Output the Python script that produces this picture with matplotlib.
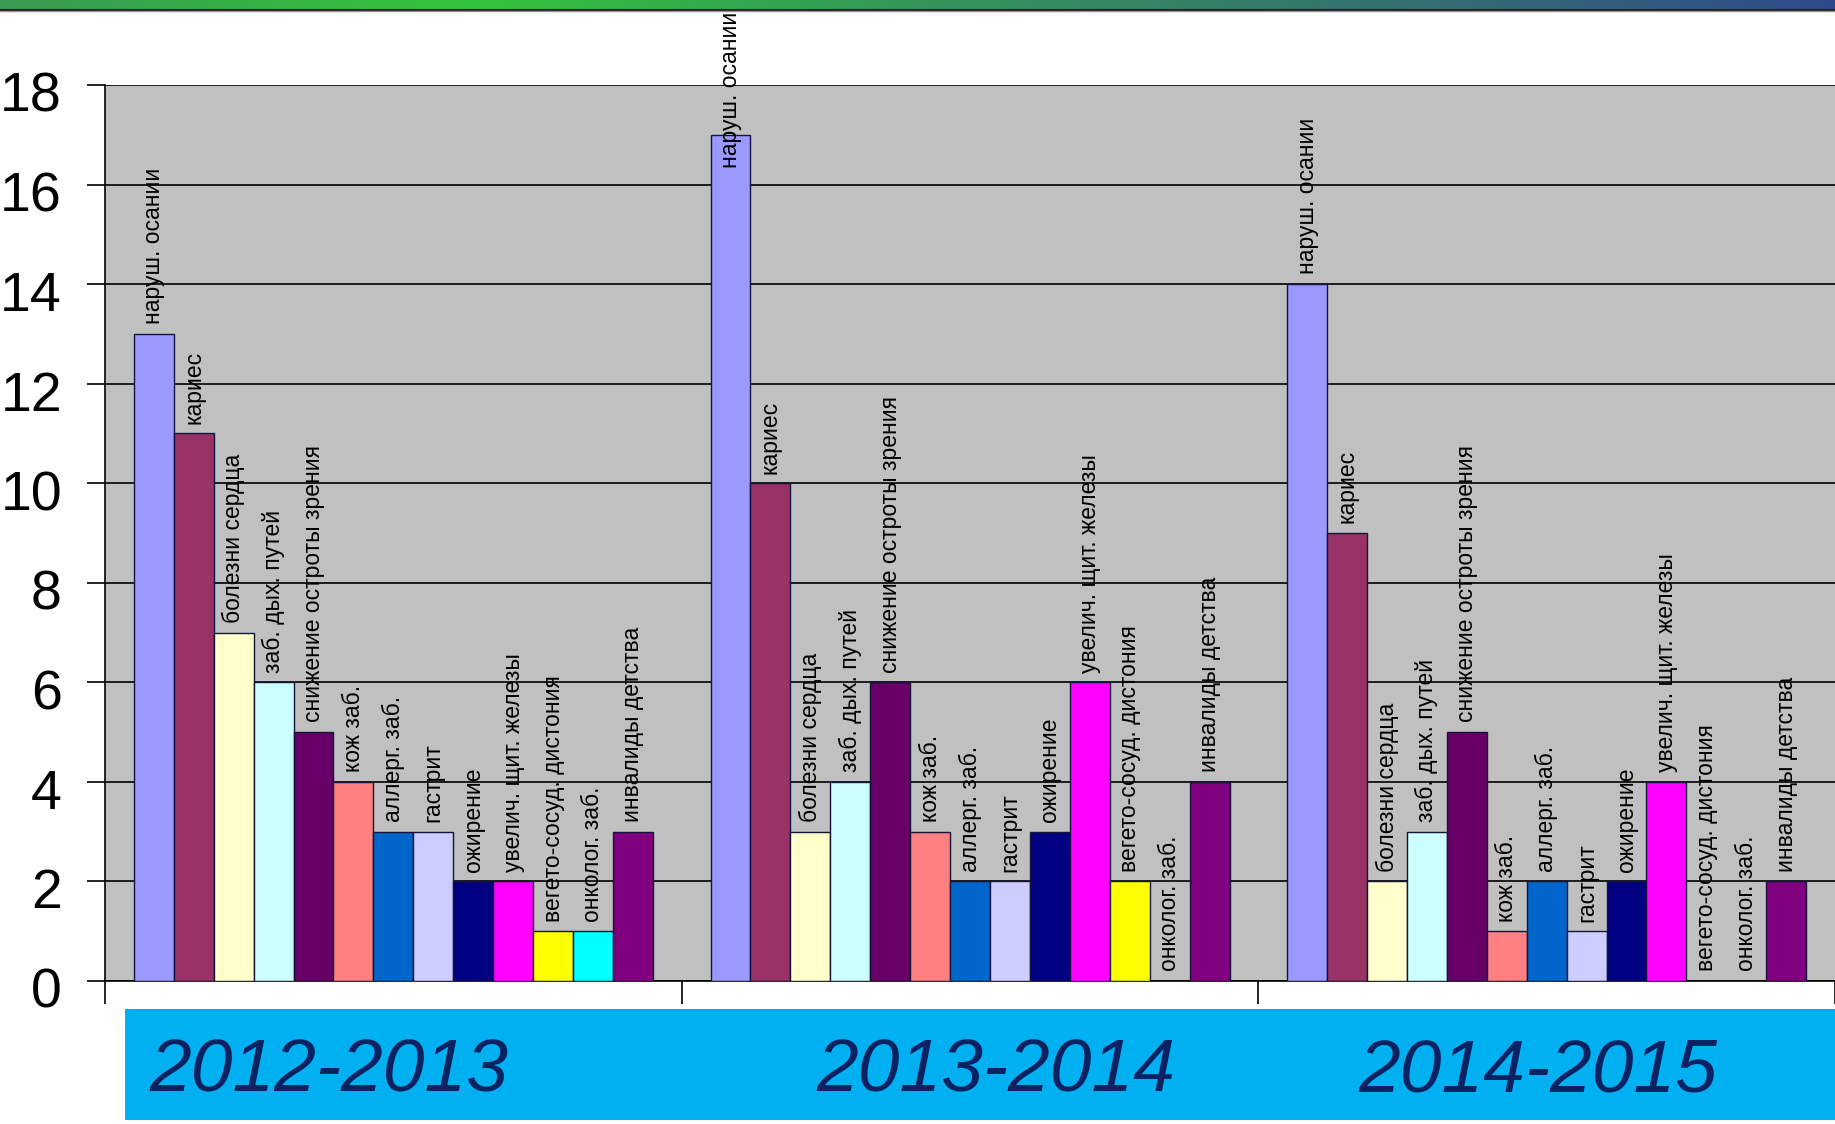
import matplotlib.pyplot as plt
import numpy as np
from matplotlib.patches import Rectangle
from matplotlib.transforms import ScaledTranslation
from matplotlib.colors import LinearSegmentedColormap

# school years and disease categories
years = ['2012-2013', '2013-2014', '2014-2015']
diseases = [
    'наруш. осании', 'кариес', 'болезни сердца', 'заб. дых. путей',
    'снижение остроты зрения', 'кож заб.', 'аллерг. заб.', 'гастрит',
    'ожирение', 'увелич. щит. железы', 'вегето-сосуд. дистония',
    'онколог. заб.', 'инвалиды детства',
]
counts_2012 = [13, 11, 7, 6, 5, 4, 3, 3, 2, 2, 1, 1, 3]
counts_2013 = [17, 10, 3, 4, 6, 3, 2, 2, 3, 6, 2, 0, 4]
counts_2014 = [14, 9, 2, 3, 5, 1, 2, 1, 2, 4, 0, 0, 2]

colors = ['#9999FF', '#993366', '#FFFFCC', '#CCFFFF', '#660066', '#FF8080',
          '#0066CC', '#CCCCFF', '#000080', '#FF00FF', '#FFFF00', '#00FFFF',
          '#800080']

W, H, DPI = 1835, 1124, 100
fig = plt.figure(figsize=(W / DPI, H / DPI), dpi=DPI)
fig.patch.set_facecolor('white')

# green-to-blue strip across the top
strip = fig.add_axes([0, 1 - 9 / H, 1, 9 / H])
cmap = LinearSegmentedColormap.from_list(
    'strip', [(0, '#3a9a52'), (0.25, '#33c43a'), (0.5, '#35975a'),
              (0.8, '#336c74'), (1, '#2f4a8c')])
strip.imshow(np.linspace(0, 1, 256)[None, :], aspect='auto', cmap=cmap)
strip.set_axis_off()
fig.add_artist(plt.Line2D([0, 1], [1 - 9.5 / H, 1 - 9.5 / H], color='#202020', lw=1.5))
fig.add_artist(plt.Line2D([0, 1], [1 - 11 / H, 1 - 11 / H], color='#909090', lw=1))

ax = fig.add_axes([105 / W, (H - 981) / H, (W - 105) / W, 896 / H])
ax.set_facecolor('#C0C0C0')

data = np.array([counts_2012, counts_2013, counts_2014])
n = len(diseases)
bw = 0.9 / n
labels = []
for g in range(len(years)):
    x0 = g + 0.05
    for i in range(n):
        xc = x0 + bw * (i + 0.5)
        ax.bar(xc, data[g, i], width=bw, color=colors[i], edgecolor='#14143a',
               linewidth=1, zorder=3)
        t = ax.annotate(diseases[i], xy=(xc, data[g, i]), xytext=(0, 7),
                        textcoords='offset points', rotation=90,
                        ha='center', va='bottom', fontsize=16.5,
                        family='Liberation Sans', color='black', zorder=4,
                        annotation_clip=False)
        labels.append(t)

ax.set_xlim(0, 3)
ax.set_ylim(0, 18)
ax.set_yticks(np.arange(0, 19, 2))
ax.set_xticks([0, 1, 2, 3])
ax.set_xticklabels([])
ax.grid(axis='y', color='black', linewidth=1.2, zorder=1)
ax.set_axisbelow(True)
ax.tick_params(axis='y', direction='out', length=13, width=1.2, pad=18,
               labelsize=40, color='black')
ax.tick_params(axis='x', direction='out', length=16.5, width=1.2, color='black')
for lab in ax.get_yticklabels():
    lab.set_family('Liberation Sans')
    lab.set_transform(lab.get_transform() + ScaledTranslation(0, -7 / DPI, fig.dpi_scale_trans))
for side in ['top', 'right']:
    ax.spines[side].set_visible(False)
ax.spines['left'].set_linewidth(1.2)
ax.spines['bottom'].set_linewidth(1.2)

# labels that would run off the top get pushed down onto the bar
fig.canvas.draw()
renderer = fig.canvas.get_renderer()
for t in labels:
    bb = t.get_window_extent(renderer)
    over = bb.y1 - (H - 12)
    if over > 0:
        t.xyann = (0, 7 - over * 72 / DPI)

# year banner
fig.add_artist(Rectangle((125 / W, (H - 1120) / H), (W - 125) / W, 111 / H,
                         transform=fig.transFigure, facecolor='#00B0F0',
                         edgecolor='none', zorder=5))
for yr, xl in zip(years, [149, 816, 1358]):
    fig.text(xl / W, (H - 1092) / H, yr, fontsize=54, style='italic',
             family='Liberation Sans', color='#0b2262', ha='left',
             va='baseline', zorder=6)

fig.savefig('out.png', dpi=DPI)
